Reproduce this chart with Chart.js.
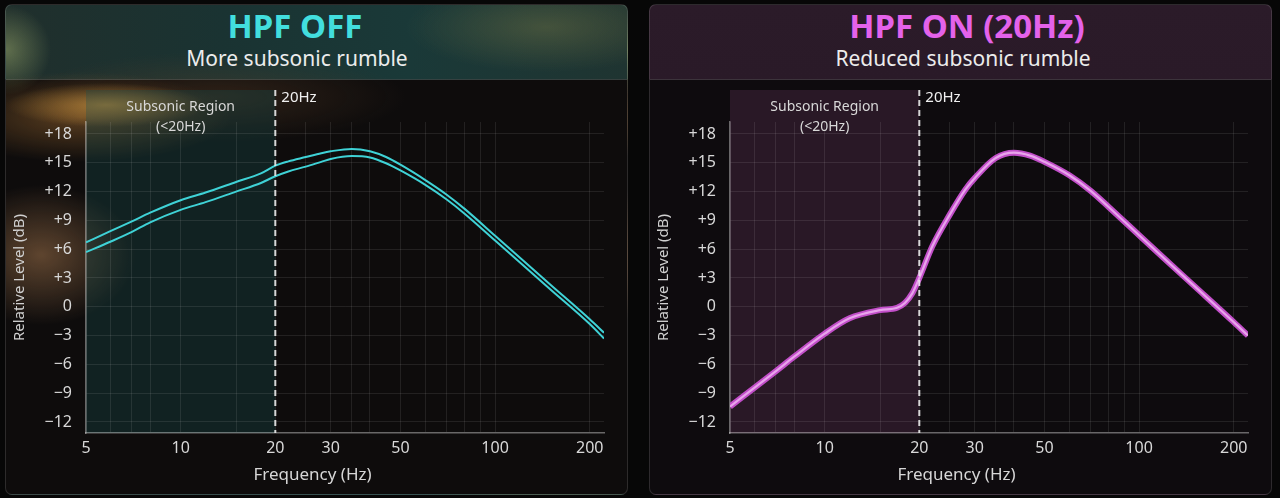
<!DOCTYPE html>
<html>
<head>
<meta charset="utf-8">
<title>HPF off / on</title>
<script src="https://cdn.jsdelivr.net/npm/chart.js@4.4.1/dist/chart.umd.min.js"></script>
<style>
  body { margin: 0; width: 1280px; height: 498px; background: #070707; overflow: hidden; position: relative; font-family: "Noto Sans", sans-serif; }
  .card { position: absolute; top: 4px; width: 623px; height: 491px; box-sizing: border-box; border: 1px solid rgba(255,255,255,0.13); border-radius: 7px; overflow: hidden; }
  #offCard {
    left: 5px;
    background:
      radial-gradient(ellipse 100px 22px at 100px 100px, rgba(225,165,70,0.6), rgba(225,165,70,0) 100%),
      radial-gradient(ellipse 150px 45px at 75px 112px, rgba(165,110,50,0.5), rgba(165,110,50,0) 100%),
      radial-gradient(ellipse 95px 70px at 35px 250px, rgba(160,115,75,0.55), rgba(160,115,75,0) 100%),
      radial-gradient(ellipse 190px 45px at 210px 92px, rgba(95,65,40,0.4), rgba(95,65,40,0) 100%),
      radial-gradient(ellipse 45px 45px at 0px 45px, rgba(160,175,110,0.5), rgba(160,175,110,0) 100%),
      radial-gradient(ellipse 140px 45px at 540px 22px, rgba(140,135,75,0.35), rgba(140,135,75,0) 100%),
      linear-gradient(180deg, rgba(0,0,0,0) 0px, rgba(0,0,0,0) 74px, #0e0c0c 75px),
      linear-gradient(90deg, #202f2c 0%, #1a3332 35%, #1a3938 65%, #1f3431 100%);
  }
  #onCard { left: 649px; background: linear-gradient(180deg, #2b1b29 0px, #2a1a28 74px, #0e0b0e 75px); }
  .head { position: absolute; left: 0; right: 0; top: 0; height: 74px; border-bottom: 1px solid rgba(255,255,255,0.14); }
  .title { position: absolute; top: 6px; transform: translateX(-50%); white-space: nowrap; font-weight: 700; font-size: 33px; line-height: 40px; }
  .sub { position: absolute; top: 44px; transform: translateX(-50%); white-space: nowrap; font-size: 21px; line-height: 28px; color: #ececec; }
  canvas { position: absolute; top: 78px; }
</style>
</head>
<body>
<div class="card" id="offCard"><div class="head"></div></div>
<div class="card" id="onCard"><div class="head"></div></div>
<div class="title" style="left:295px;color:#42dede">HPF OFF</div>
<div class="sub" style="left:297px">More subsonic rumble</div>
<div class="title" style="left:967px;color:#e462ea">HPF ON (20Hz)</div>
<div class="sub" style="left:963px">Reduced subsonic rumble</div>
<canvas id="offChart" width="623" height="416" style="left:5px"></canvas>
<canvas id="onChart" width="623" height="416" style="left:649px"></canvas>
<script>
// values
const offFreq = [5, 6, 7, 8, 10, 12, 15, 18, 20, 22, 25, 28, 30, 35, 40, 45, 50, 60, 70, 80, 100, 120, 150, 200, 222];
const offUpper = [6.7, 7.9, 8.9, 9.8, 11.1, 11.9, 13.0, 13.9, 14.7, 15.15, 15.6, 16.0, 16.2, 16.45, 16.2, 15.6, 14.8, 13.2, 11.7, 10.2, 7.4, 5.1, 2.3, -1.3, -2.7];
const offLower = [5.7, 6.8, 7.8, 8.8, 10.1, 10.9, 12.0, 12.9, 13.6, 14.1, 14.6, 15.1, 15.4, 15.7, 15.55, 14.95, 14.2, 12.7, 11.2, 9.7, 6.9, 4.6, 1.8, -1.8, -3.3];

const onFreq = [5, 6, 7, 8, 10, 12, 15, 17, 18, 19, 20, 22, 25, 28, 30, 35, 40, 45, 50, 60, 70, 80, 100, 120, 150, 200, 222];
const onLevel = [-10.4, -8.4, -6.7, -5.2, -2.8, -1.2, -0.35, -0.1, 0.4, 1.4, 3.0, 6.3, 9.6, 12.2, 13.4, 15.5, 16.05, 15.75, 15.1, 13.7, 12.1, 10.4, 7.45, 5.05, 2.15, -1.6, -3.0];

const yTicks = [-12, -9, -6, -3, 0, 3, 6, 9, 12, 15, 18];
const xLabels = [5, 10, 20, 30, 50, 100, 200];
const xGrid = [5, 6, 7, 8, 10, 15, 20, 25, 30, 35, 40, 50, 60, 70, 80, 90, 100, 200];
const freqMin = 5, freqMax = 222, cutoffHz = 20;

Chart.defaults.font.family = '"Noto Sans", sans-serif';
Chart.defaults.color = '#d6d6d6';

// shaded region below 20 Hz, dashed marker and the texts round it
const subsonicPlugin = {
    id: 'subsonic',
    beforeDraw(chart, args, opts) {
        const { ctx, chartArea: a, scales: { x } } = chart;
        const x0 = x.getPixelForValue(freqMin);
        const x1 = x.getPixelForValue(cutoffHz);
        ctx.save();
        ctx.fillStyle = opts.fill;
        ctx.fillRect(x0, a.top - 32, x1 - x0, a.bottom - a.top + 32);
        ctx.restore();
    },
    afterDatasetsDraw(chart) {
        const { ctx, chartArea: a, scales: { x } } = chart;
        const x0 = x.getPixelForValue(freqMin);
        const x1 = x.getPixelForValue(cutoffHz);
        ctx.save();
        ctx.strokeStyle = 'rgba(235,235,235,0.9)';
        ctx.lineWidth = 2;
        ctx.setLineDash([6, 4]);
        ctx.beginPath();
        ctx.moveTo(x1, a.top - 32);
        ctx.lineTo(x1, a.bottom);
        ctx.stroke();
        ctx.setLineDash([]);

        ctx.fillStyle = '#d8d8d8';
        ctx.font = '14px "Noto Sans"';
        ctx.textAlign = 'center';
        ctx.textBaseline = 'middle';
        ctx.fillText('Subsonic Region', (x0 + x1) / 2, a.top - 15);
        ctx.fillText('(<20Hz)', (x0 + x1) / 2, a.top + 5);

        ctx.fillStyle = '#f0f0f0';
        ctx.font = '15px "Noto Sans"';
        ctx.textAlign = 'left';
        ctx.fillText('20Hz', x1 + 6, a.top - 24);
        ctx.restore();
    },
    afterDraw(chart) {
        const { ctx, width, height } = chart;
        ctx.save();
        ctx.fillStyle = '#d6d6d6';
        ctx.font = '17px "Noto Sans"';
        ctx.textAlign = 'center';
        ctx.textBaseline = 'middle';
        ctx.fillText('Frequency (Hz)', width / 2 - 4, height - 19);
        ctx.restore();
    }
};

function points(freqs, levels) {
    return freqs.map((f, i) => ({ x: f, y: levels[i] }));
}

function line(data, color, width, order) {
    return {
        data: data,
        borderColor: color,
        borderWidth: width,
        pointRadius: 0,
        fill: false,
        cubicInterpolationMode: 'monotone',
        order: order
    };
}

function makeChart(id, datasets, regionFill) {
    return new Chart(document.getElementById(id), {
        type: 'line',
        data: { datasets: datasets },
        plugins: [subsonicPlugin],
        options: {
            responsive: false,
            animation: false,
            layout: { padding: { top: 44, right: 24, left: 0, bottom: 0 } },
            plugins: {
                legend: { display: false },
                tooltip: { enabled: false },
                subsonic: { fill: regionFill }
            },
            scales: {
                x: {
                    type: 'logarithmic',
                    min: freqMin,
                    max: freqMax,
                    afterBuildTicks: s => { s.ticks = xGrid.map(v => ({ value: v })); },
                    afterFit: s => { s.height = 61; },
                    grid: { color: 'rgba(255,255,255,0.09)', drawTicks: false },
                    border: { color: 'rgba(255,255,255,0.38)', width: 1.5 },
                    ticks: {
                        autoSkip: false,
                        maxRotation: 0,
                        padding: 6,
                        color: '#d8d8d8',
                        font: { size: 16 },
                        callback: v => xLabels.includes(v) ? String(v) : ''
                    }
                },
                y: {
                    min: -13.15,
                    max: 19.25,
                    afterBuildTicks: s => { s.ticks = yTicks.map(v => ({ value: v })); },
                    afterFit: s => { s.width = 81; },
                    grid: { color: 'rgba(255,255,255,0.09)', drawTicks: false },
                    border: { color: 'rgba(255,255,255,0.38)', width: 1.5 },
                    title: {
                        display: true,
                        text: 'Relative Level (dB)',
                        color: '#d0d0d0',
                        font: { size: 15 },
                        padding: { top: 6 }
                    },
                    ticks: {
                        padding: 14,
                        color: '#d8d8d8',
                        font: { size: 16 },
                        callback: v => v > 0 ? '+' + v : (v < 0 ? '\u2212' + Math.abs(v) : '0')
                    }
                }
            }
        }
    });
}

makeChart('offChart', [
    line(points(offFreq, offUpper), '#3fd2d6', 2, 1),
    line(points(offFreq, offLower), '#3fd2d6', 2, 1)
], 'rgba(25,80,80,0.32)');

makeChart('onChart', [
    line(points(onFreq, onLevel), '#c24ec9', 6, 2),
    line(points(onFreq, onLevel), '#e8a4eb', 2.2, 1)
], '#291826');
</script>
</body>
</html>
